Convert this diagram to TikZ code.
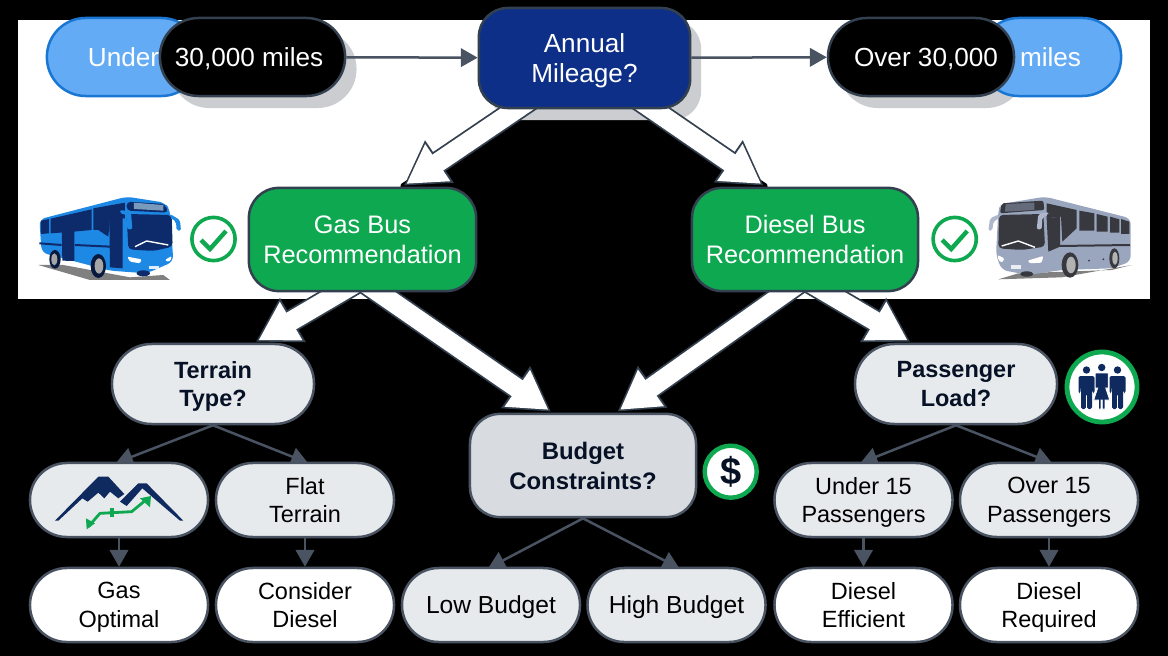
\documentclass[tikz,border=0pt]{standalone}
\usepackage{amsmath}
\usepackage{fontspec}
\setmainfont{Liberation Sans}
\usetikzlibrary{arrows.meta,calc,backgrounds}
\definecolor{palNavy}{HTML}{0E2F87}
\definecolor{palInk}{HTML}{0F2A5F}
\definecolor{palSky}{HTML}{64ABF6}
\definecolor{palSkyDk}{HTML}{1976D2}
\definecolor{palGreen}{HTML}{0DA84F}
\definecolor{palEdge}{HTML}{4A5361}
\definecolor{palEdgeDk}{HTML}{33404F}
\definecolor{palFog}{HTML}{E7EAED}
\definecolor{palFogDk}{HTML}{D8DBDF}
\definecolor{palShade}{HTML}{CBCDD1}
\definecolor{palBus}{HTML}{1E88E5}
\definecolor{palBusDk}{HTML}{0D2A6B}
\definecolor{palCoach}{HTML}{9AA5BE}
\definecolor{palCoachDk}{HTML}{37393F}
\tikzset{
  bigtext/.style={font=\fontsize{18.6}{21.3}\selectfont, align=center},
  smalltext/.style={font=\fontsize{16.7}{20.3}\selectfont, align=center, text=black},
  headbox/.style={draw=palEdgeDk, line width=.0625cm, rounded corners=.72cm,
                  inner sep=0pt, bigtext, text=white},
  greenbox/.style={headbox, fill=palGreen, rounded corners=.75cm, minimum height=2.58cm,
                  font=\fontsize{18}{21.3}\selectfont},
  mileagepill/.style={draw=palEdgeDk, fill=black, line width=.0625cm, rounded corners=.97cm,
                  minimum height=1.95cm, inner sep=0pt, bigtext, text=white},
  skypill/.style={draw=palSkyDk, fill=palSky, line width=.0625cm, rounded corners=.97cm,
                  minimum height=1.95cm, inner sep=0pt, bigtext, text=white},
  shadepill/.style={fill=palShade, rounded corners=.97cm, inner sep=0pt, minimum height=1.95cm},
  askpill/.style={draw=palEdge, fill=palFog, line width=.0625cm, rounded corners=.99cm,
                  minimum width=5.05cm, minimum height=2cm, inner sep=0pt, smalltext,
                  font=\fontsize{16.7}{20.3}\selectfont\bfseries, text=palInk!40!black},
  optpill/.style={draw=palEdge, fill=palFog, line width=.0625cm, rounded corners=.92cm,
                  minimum width=4.45cm, minimum height=1.85cm, inner sep=0pt, smalltext},
  endpill/.style={optpill, fill=white},
  badge/.style={circle, draw=palGreen, fill=white, inner sep=0pt},
  tickmark/.style={palGreen, line width=.11cm},
  blockarrow/.style={white, line width=.48cm, -{Triangle[length=.95cm,width=1.05cm]},
                  shorten >=.12cm, shorten <=-.5cm,
                  preaction={draw=palEdgeDk, line width=.57cm, shorten >=.04cm, shorten <=-.5cm,
                  -{Triangle[length=1.08cm,width=1.2cm]}}},
  thinarrow/.style={palEdge, line width=.0625cm, -{Triangle[length=.42cm,width=.46cm]}},
}
\begin{document}
\begin{tikzpicture}[x=.025cm, y=-.025cm]
\useasboundingbox (0,0) rectangle (1168,656);

%% Backdrop and shadows
\begin{scope}[on background layer]
  \fill[black] (0,0) rectangle (1168,656);
  \fill[white] (18,20) rectangle (1150,299);
  \fill[black] (401,184) -- (517,108) -- (650,108) -- (767,184) -- (790,291) -- (790,299)
    -- (380,299) -- (380,291) -- cycle;
  \node[shadepill, minimum width=4.65cm] (underShade) at (263.5,69) {};
  \node[shadepill, minimum width=4.65cm] (overShade) at (932,69) {};
  \node[fill=palShade, rounded corners=.72cm, minimum width=5.28cm, minimum height=2.5cm] (annualShade) at (595.5,70) {};
\end{scope}

%% Top row
\node[skypill, minimum width=3.83cm] (underBack) at (123.5,57) {Under};
\node[skypill, minimum width=3.53cm] (overBack) at (1050.5,57) {miles};
\node[mileagepill, minimum width=4.63cm] (under) at (252.5,57) {\smash[b]{30,000 miles}\hspace*{.17cm}};
\node[mileagepill, minimum width=4.65cm] (over) at (921,57) {\hspace*{.25cm}\smash[b]{Over 30,000}};
\node[headbox, fill=palNavy, minimum width=5.28cm, minimum height=2.5cm] (annual) at (584.5,58) {Annual\\\smash[b]{Mileage?}};

%% Recommendations
\node[greenbox, minimum width=5.68cm] (gas) at (362.5,239.5) {Gas Bus\\Recommendation};
\node[greenbox, minimum width=5.65cm] (diesel) at (805,239.5) {Diesel Bus\\Recommendation};

%% Questions
\node[askpill] (terrain) at (213,384) {Terrain\\\smash[b]{Type?}};
\node[askpill] (passenger) at (956,384) {Passenger\\Load?};
\node[askpill, fill=palFogDk, rounded corners=.75cm, minimum width=5.65cm, minimum height=2.58cm,
      font=\fontsize{17}{21.3}\selectfont\bfseries] (budget) at (583,465.5) {Budget\\Constraints?};

%% Options
\node[optpill] (hilly) at (119,500) {};
\node[optpill] (flat) at (305,500) {Flat\\Terrain};
\node[optpill] (few) at (863.5,500) {Under 15\\\smash[b]{Passengers}};
\node[optpill] (many) at (1049,500) {Over 15\\\smash[b]{Passengers}};
\node[optpill, font=\fontsize{17.5}{20.3}\selectfont] (lowB) at (491,605) {\smash[b]{Low Budget}};
\node[optpill, font=\fontsize{17.5}{20.3}\selectfont] (highB) at (676.5,605) {\smash[b]{High Budget}};

%% Outcomes
\node[endpill] (gasOpt) at (119,605) {Gas\\\smash[b]{Optimal}};
\node[endpill] (consider) at (305,605) {Consider\\Diesel};
\node[endpill] (effic) at (863.5,605) {Diesel\\Efficient};
\node[endpill] (requir) at (1049,605) {Diesel\\\smash[b]{Required}};

%% Connectors, behind the nodes
\begin{scope}[on background layer]
  \draw[thinarrow] (under) -- (annual);
  \draw[thinarrow] (annual) -- (over);
  \foreach \a/\b in {annual.217/gas.53, annual.-37/diesel.127, gas.247/terrain.45,
                     gas.-73/budget.120, diesel.250/budget.58, diesel.-68/passenger.137} {
    \draw[blockarrow] (\a) -- (\b);
  }
  \foreach \a/\b in {terrain/hilly, terrain/flat, passenger/few, passenger/many, budget/lowB, budget/highB} {
    \draw[thinarrow, shorten >=-.08cm] (\a.south) -- (\b.north);
  }
  \foreach \a/\b in {hilly/gasOpt, flat/consider, few/effic, many/requir} {
    \draw[thinarrow] (\a) -- (\b);
  }
\end{scope}

%% Badges
\foreach \n/\x in {gasTick/213.5, dieselTick/954.7} {
  \node[badge, line width=.09cm, minimum size=1.08cm] (\n) at (\x,239) {};
  \draw[tickmark] (\x-12.5,240) -- (\x-3.5,249) -- (\x+12.5,231);
}
\node[badge, line width=.11cm, minimum size=1.3cm, font=\fontsize{27}{27}\selectfont\bfseries, text=palInk!40!black] (dollar) at (730.7,471.7) {\$};
\node[badge, line width=.12cm, minimum size=1.75cm] (crowd) at (1102,387) {};

%% People
\foreach \x in {1086.5,1117.5} {
  \fill[palInk] (\x,370) circle (3.7);
  \fill[palInk, rounded corners=.04cm] (\x-8,376) -- (\x+8,376) -- (\x+8,393) -- (\x+6,393) -- (\x+5.5,383)
    -- (\x+5.5,409) -- (\x+.6,409) -- (\x+.6,394) -- (\x-.6,394) -- (\x-.6,409) -- (\x-5.5,409)
    -- (\x-5.5,383) -- (\x-6,393) -- (\x-8,393) -- cycle;
}
\def\x{1101.7}
\fill[palInk] (\x,367.5) circle (3.7);
\fill[palInk, draw=white, line width=.02cm] (\x-6.5,373) -- (\x+6.5,373) -- (\x+6.5,388) -- (\x+4,388) -- (\x+8,400) -- (\x+3.2,400)
  -- (\x+3.2,409) -- (\x+.6,409) -- (\x+.6,400) -- (\x-.6,400) -- (\x-.6,409) -- (\x-3.2,409) -- (\x-3.2,400)
  -- (\x-8,400) -- (\x-4,388) -- (\x-6.5,388) -- cycle;

%% Mountains
\begin{scope}[shift={(45,470)}, scale=.3333]
  \fill[palInk] (30,152) -- (160,20) -- (190,20) -- (238,72) -- (220,85) -- (195,65) -- (178,85) -- (160,68)
    -- (128,95) -- (112,85) -- (40,152) -- cycle;
  \fill[palInk] (225,95) -- (280,40) -- (305,40) -- (415,152) -- (405,152) -- (292,55) -- (245,108) -- cycle;
  \draw[palGreen, line width=.07cm, line join=round] (130,170) -- (165,130) -- (260,125) -- (305,88);
  \fill[palGreen] (285,85) -- (318,78) -- (315,112) -- cycle;
  \fill[palGreen] (123,145) -- (125,178) -- (150,160) -- cycle;
  \fill[palGreen] (196,113) rectangle (206,142);
\end{scope}

%% Gas bus
\begin{scope}[shift={(30,190)}, scale=.3333]
  \fill[black!50] (25,225) -- (100,225) -- (300,262) -- (400,255) -- (420,270) -- (180,270) -- cycle;
  \fill[palBus, rounded corners=.15cm] (28,88) -- (290,20) -- (405,38) -- (420,60) -- (430,215) -- (350,250) -- (240,242) -- (35,188) -- cycle;
  \fill[palBusDk] (33,92) -- (57,87) -- (57,130) -- (33,132) -- cycle;
  \fill[palBusDk] (62,86) -- (185,58) -- (185,120) -- (130,125) -- (62,130) -- cycle;
  \fill[palBusDk] (190,55) -- (285,38) -- (285,85) -- (240,85) -- (235,140) -- (205,120) -- (190,120) -- cycle;
  \fill[palBusDk] (95,92) -- (133,85) -- (133,213) -- (97,212) -- cycle;
  \fill[palBusDk] (238,85) -- (278,80) -- (278,235) -- (240,232) -- cycle;
  \fill[palBusDk, rounded corners=.1cm] (290,72) -- (425,75) -- (428,170) -- (370,183) -- (295,178) -- cycle;
  \fill[palBusDk, rounded corners=.1cm] (290,35) -- (405,42) -- (415,68) -- (290,62) -- cycle;
  \fill[black!35!palSky!70] (312,38) -- (400,45) -- (400,62) -- (312,57) -- cycle;
  \draw[white, line width=.035cm] (315,170) -- (350,153) -- (415,165);
  \draw[palBusDk, line width=.05cm] (28,160) -- (95,165) (135,165) -- (240,170);
  \fill[palBus, rounded corners=.05cm] (270,60) -- (303,65) -- (307,118) -- (292,118) -- (290,75) -- (270,70) -- cycle;
  \fill[palBus, rounded corners=.05cm] (420,72) -- (450,90) -- (453,122) -- (440,122) -- (438,95) -- (420,82) -- cycle;
  \fill[white, rounded corners=.03cm] (292,200) -- (335,208) -- (330,220) -- (300,215) -- cycle;
  \fill[white, rounded corners=.03cm] (405,210) -- (425,198) -- (422,212) -- (410,215) -- cycle;
  \fill[white!80!palSky] (357,228) rectangle (388,238);
  \fill[palBusDk] (340,250) ellipse [x radius=20, y radius=9];
  \fill[palBusDk!60!black] (75,208) ellipse [x radius=17, y radius=28];
  \fill[black!35] (73,208) ellipse [x radius=9, y radius=18];
  \fill[palBusDk!60!black] (205,228) ellipse [x radius=23, y radius=36];
  \fill[black!35] (207,228) ellipse [x radius=13, y radius=23];
\end{scope}

%% Diesel bus
\begin{scope}[shift={(985,190)}, scale=.3333]
  \fill[black!50] (40,268) -- (230,262) -- (440,225) -- (380,240) -- (100,250) -- cycle;
  \fill[palCoach, rounded corners=.15cm] (48,42) -- (180,20) -- (437,85) -- (437,215) -- (380,235) -- (230,240) -- (130,255) -- (50,240) -- (33,195) -- (40,60) -- cycle;
  \fill[palCoachDk, rounded corners=.1cm] (42,75) -- (175,72) -- (180,170) -- (110,180) -- (40,175) -- cycle;
  \fill[palCoachDk, rounded corners=.05cm] (50,40) -- (175,32) -- (178,60) -- (45,70) -- cycle;
  \fill[black!35!palCoach] (62,42) -- (148,38) -- (148,60) -- (60,65) -- cycle;
  \fill[palCoachDk] (185,85) -- (225,80) -- (225,170) -- (190,185) -- cycle;
  \fill[palCoachDk] (185,40) -- (275,60) -- (275,115) -- (232,155) -- (228,80) -- (185,85) -- cycle;
  \foreach \l/\r/\t/\b in {283/328/62/122, 335/368/72/125, 375/403/80/128, 408/433/87/132} {
    \fill[palCoachDk] (\l,\t) -- (\r,\t+8) -- (\r,\b) -- (\l,\b) -- cycle;
  }
  \draw[palCoachDk, line width=.05cm] (225,168) -- (435,165);
  \draw[white, line width=.035cm] (50,168) -- (100,153) -- (150,172);
  \fill[palCoach!80, rounded corners=.05cm] (42,73) -- (15,85) -- (10,122) -- (22,122) -- (25,95) -- (42,85) -- cycle;
  \fill[palCoach!80, rounded corners=.05cm] (190,66) -- (160,72) -- (155,118) -- (170,118) -- (172,82) -- (190,75) -- cycle;
  \fill[white, rounded corners=.03cm] (38,195) -- (58,205) -- (52,218) -- (40,210) -- cycle;
  \fill[white, rounded corners=.03cm] (128,212) -- (175,198) -- (170,218) -- (135,220) -- cycle;
  \fill[white!80!palCoach] (78,226) rectangle (108,238);
  \fill[palCoachDk] (125,252) ellipse [x radius=20, y radius=8];
  \fill[palCoachDk] (255,225) ellipse [x radius=25, y radius=38];
  \fill[black!30] (258,225) ellipse [x radius=14, y radius=25];
  \fill[palCoachDk] (388,205) ellipse [x radius=15, y radius=30];
  \fill[black!30] (390,205) ellipse [x radius=8, y radius=20];
  \fill[palCoachDk] (312,212) circle (3) (355,208) circle (3);
\end{scope}
\end{tikzpicture}
\end{document}
